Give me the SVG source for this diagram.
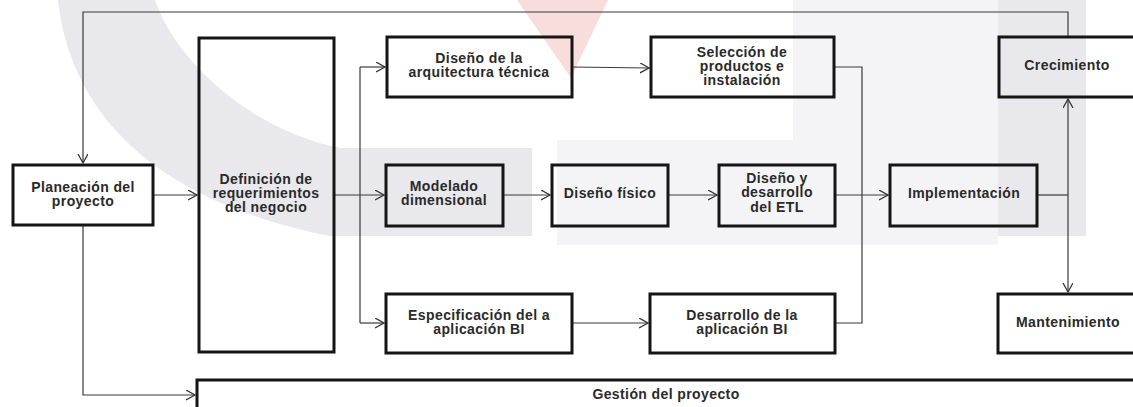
<svg xmlns="http://www.w3.org/2000/svg" width="1133" height="407" viewBox="0 0 1133 407">
  <style>
    .box { fill: none; stroke: #151515; stroke-width: 3; }
    .wire { fill: none; stroke: #3a3a3a; stroke-width: 1.2; }
    .lbl { font-family: "Liberation Sans", Arial, sans-serif; font-size: 14px; font-weight: bold; fill: #2a2a2a; text-anchor: middle; letter-spacing: 0.4px; }
  </style>
  <defs>
    <marker id="arr" markerUnits="userSpaceOnUse" markerWidth="12" markerHeight="12" refX="9" refY="5" orient="auto">
      <path d="M0,0 L9,5 L0,10" fill="none" stroke="#333" stroke-width="1.3"/>
    </marker>
  </defs>

  <rect width="1133" height="407" fill="#ffffff"/>

  <!-- faint background emblem -->
  <g id="backdrop">
    <rect x="793" y="0" width="205" height="245" fill="#f4f4f6"/>
    <rect x="557" y="140" width="440" height="105" fill="#f4f4f6"/>
    <rect x="998" y="0" width="88" height="236" fill="#e9e9ed"/>
    <path d="M58,0 C70,110 150,200 330,236 L532,236 L532,148 L340,148 C250,130 175,60 155,0 Z" fill="#e8e8ed"/>
    <path d="M517,0 L608,0 L571,78 Z" fill="#f9dcdc"/>
  </g>

  <!-- connectors -->
  <g id="connectors">
    <path class="wire" d="M1068,37 V12 H83 V163" marker-end="url(#arr)"/>
    <path class="wire" d="M153,195 H197" marker-end="url(#arr)"/>
    <path class="wire" d="M83,225 V395 H195" marker-end="url(#arr)"/>
    <path class="wire" d="M334,195 H384" marker-end="url(#arr)"/>
    <path class="wire" d="M360,67 V323"/>
    <path class="wire" d="M360,67 H385" marker-end="url(#arr)"/>
    <path class="wire" d="M360,323 H384" marker-end="url(#arr)"/>
    <path class="wire" d="M572,67 L649,68" marker-end="url(#arr)"/>
    <path class="wire" d="M572,323 H648" marker-end="url(#arr)"/>
    <path class="wire" d="M503,195 H550" marker-end="url(#arr)"/>
    <path class="wire" d="M668,195 H717" marker-end="url(#arr)"/>
    <path class="wire" d="M835,195 H888" marker-end="url(#arr)"/>
    <path class="wire" d="M834,67 H862 V323 H835"/>
    <path class="wire" d="M1037,195 H1068"/>
    <path class="wire" d="M1068,195 V99" marker-end="url(#arr)"/>
    <path class="wire" d="M1068,195 V292" marker-end="url(#arr)"/>
  </g>

  <g id="planeacion">
    <rect class="box" x="13" y="165" width="140" height="60"/>
    <text class="lbl" x="83" y="192">Planeación del</text>
    <text class="lbl" x="83" y="206">proyecto</text>
  </g>

  <g id="definicion">
    <rect class="box" x="199" y="38" width="135" height="314"/>
    <text class="lbl" x="266" y="184">Definición de</text>
    <text class="lbl" x="266" y="198">requerimientos</text>
    <text class="lbl" x="266" y="212">del negocio</text>
  </g>

  <g id="arquitectura">
    <rect class="box" x="387" y="37" width="185" height="60"/>
    <text class="lbl" x="479" y="63">Diseño de la</text>
    <text class="lbl" x="479" y="77">arquitectura técnica</text>
  </g>

  <g id="seleccion">
    <rect class="box" x="651" y="37" width="183" height="60"/>
    <text class="lbl" x="742" y="57">Selección de</text>
    <text class="lbl" x="742" y="71">productos e</text>
    <text class="lbl" x="742" y="85">instalación</text>
  </g>

  <g id="crecimiento">
    <rect class="box" x="999" y="37" width="137" height="60"/>
    <text class="lbl" x="1067" y="70">Crecimiento</text>
  </g>

  <g id="modelado">
    <rect class="box" x="386" y="165" width="117" height="61"/>
    <text class="lbl" x="444" y="191">Modelado</text>
    <text class="lbl" x="444" y="205">dimensional</text>
  </g>

  <g id="fisico">
    <rect class="box" x="552" y="165" width="116" height="61"/>
    <text class="lbl" x="610" y="198">Diseño físico</text>
  </g>

  <g id="etl">
    <rect class="box" x="719" y="165" width="116" height="61"/>
    <text class="lbl" x="777" y="183">Diseño y</text>
    <text class="lbl" x="777" y="197">desarrollo</text>
    <text class="lbl" x="777" y="212">del ETL</text>
  </g>

  <g id="implementacion">
    <rect class="box" x="890" y="165" width="147" height="61"/>
    <text class="lbl" x="964" y="198">Implementación</text>
  </g>

  <g id="especificacion">
    <rect class="box" x="386" y="294" width="186" height="59"/>
    <text class="lbl" x="479" y="320">Especificación del a</text>
    <text class="lbl" x="479" y="334">aplicación BI</text>
  </g>

  <g id="desarrollo">
    <rect class="box" x="650" y="294" width="185" height="59"/>
    <text class="lbl" x="742" y="320">Desarrollo de la</text>
    <text class="lbl" x="742" y="334">aplicación BI</text>
  </g>

  <g id="mantenimiento">
    <rect class="box" x="998" y="294" width="138" height="59"/>
    <text class="lbl" x="1068" y="327">Mantenimiento</text>
  </g>

  <g id="gestion">
    <rect class="box" x="197" y="380" width="1000" height="60"/>
    <text class="lbl" x="666" y="399">Gestión del proyecto</text>
  </g>
</svg>
